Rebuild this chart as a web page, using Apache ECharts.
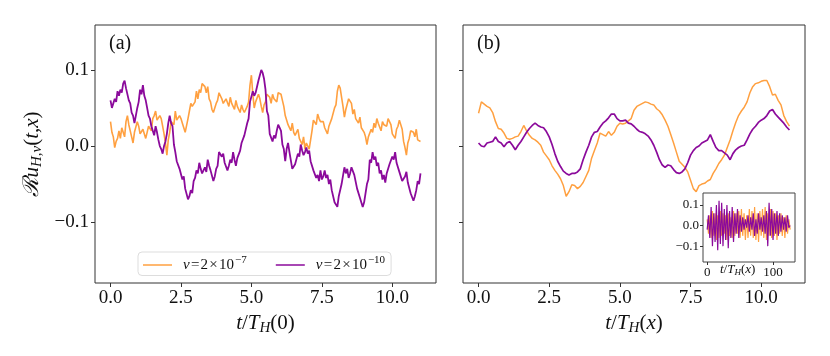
<!DOCTYPE html>
<html>
<head>
<meta charset="utf-8">
<script src="https://cdn.jsdelivr.net/npm/echarts@6/dist/echarts.min.js"></script>
<style>
  html, body { margin: 0; padding: 0; background: #fff; }
  #chart { width: 830px; height: 356px; }
</style>
</head>
<body>
<div id="chart"></div>
<script>
// sampling steps: panel (a), panel (b), inset
var tStepA = 0.05;
var tStepB = 0.1;
var insetStep = 2;

var xTicks = [0, 2.5, 5, 7.5, 10];
var yTicks = [-0.1, 0, 0.1];
var insetXTicks = [0, 100];
var insetYTicks = [-0.1, 0, 0.1];

var seriesNames = ['nu7', 'nu10'];
var legendExp = { nu7: '−7', nu10: '−10' };

// panel (a), t = 0 .. 11
var orangeA = [0.032, 0.018, 0.012, -0.002, 0.006, 0.01, 0.02, 0.01, 0.024, 0.018,
  0.012, 0.032, 0.04, 0.028, 0.028, 0.012, 0.004, 0.018, 0.02, 0.032,
  0.026, 0.016, 0.014, 0.022, 0.022, 0.01, 0.018, 0.026, 0.024, 0.02,
  0.036, 0.04, 0.046, 0.034, 0.032, 0.04, 0.036, 0.026, 0.016, 0.004,
  -0.012, 0.008, 0.018, 0.032, 0.034, 0.028, 0.046, 0.034, 0.032, 0.04,
  0.036, 0.03, 0.024, 0.018, 0.016, 0.036, 0.046, 0.056, 0.052, 0.052,
  0.058, 0.072, 0.062, 0.074, 0.07, 0.082, 0.084, 0.078, 0.07, 0.078,
  0.062, 0.058, 0.048, 0.044, 0.044, 0.056, 0.06, 0.07, 0.068, 0.062,
  0.056, 0.054, 0.062, 0.062, 0.052, 0.064, 0.056, 0.052, 0.048, 0.06,
  0.052, 0.05, 0.044, 0.054, 0.048, 0.044, 0.042, 0.052, 0.058, 0.08,
  0.093, 0.068, 0.05, 0.058, 0.056, 0.068, 0.062, 0.052, 0.044, 0.054,
  0.058, 0.068, 0.066, 0.064, 0.056, 0.068, 0.062, 0.06, 0.058, 0.07,
  0.07, 0.068, 0.06, 0.052, 0.04, 0.038, 0.028, 0.026, 0.02, 0.03,
  0.018, 0.014, 0.012, 0.022, 0.01, 0.008, 0.002, 0.012, -0.004, 0.004,
  0.002, -0.004, -0.006, 0.02, 0.034, 0.032, 0.028, 0.042, 0.036, 0.032,
  0.032, 0.032, 0.024, 0.022, 0.016, 0.026, 0.026, 0.036, 0.038, 0.05,
  0.054, 0.072, 0.08, 0.076, 0.064, 0.052, 0.038, 0.048, 0.048, 0.062,
  0.064, 0.056, 0.042, 0.048, 0.036, 0.036, 0.03, 0.038, 0.024, 0.024,
  0.018, 0.012, 0.002, 0.012, 0.012, 0.022, 0.018, 0.03, 0.024, 0.036,
  0.03, 0.028, 0.02, 0.032, 0.028, 0.026, 0.026, 0.036, 0.034, 0.028,
  0.016, 0.016, 0.01, 0.022, 0.026, 0.034, 0.034, 0.022, 0.006, -0.002,
  -0.012, 0.004, 0.01, 0.02, 0.02, 0.018, 0.012, 0.022, 0.008, 0.006,
  0.006];
var purpleA = [0.06, 0.05, 0.056, 0.062, 0.058, 0.072, 0.066, 0.074, 0.07, 0.082,
  0.086, 0.076, 0.074, 0.06, 0.056, 0.044, 0.04, 0.03, 0.04, 0.05,
  0.058, 0.074, 0.068, 0.08, 0.066, 0.06, 0.05, 0.04, 0.036, 0.026,
  0.024, 0.014, 0.026, 0.018, 0.008, 0.0, -0.004, -0.01, 0.0, 0.006,
  0.016, 0.03, 0.04, 0.03, 0.026, 0.002, -0.008, -0.02, -0.018, -0.03,
  -0.03, -0.044, -0.04, -0.056, -0.058, -0.07, -0.066, -0.058, -0.062, -0.046,
  -0.042, -0.032, -0.036, -0.022, -0.03, -0.036, -0.036, -0.028, -0.034, -0.018,
  -0.026, -0.032, -0.034, -0.046, -0.04, -0.03, -0.026, -0.008, -0.006, -0.014,
  -0.01, -0.022, -0.02, -0.032, -0.026, -0.018, -0.022, -0.008, -0.018, -0.026,
  -0.016, -0.016, -0.006, 0.004, 0.002, 0.014, 0.012, 0.03, 0.036, 0.058,
  0.06, 0.072, 0.066, 0.07, 0.07, 0.086, 0.086, 0.1, 0.096, 0.088,
  0.074, 0.046, 0.04, 0.016, 0.018, 0.006, 0.014, 0.01, 0.02, 0.028,
  0.024, 0.02, 0.002, -0.004, -0.02, -0.004, 0.004, -0.008, -0.01, -0.03,
  -0.03, -0.024, -0.022, -0.01, -0.014, 0.002, -0.006, -0.012, -0.008, -0.002,
  -0.01, -0.006, -0.02, -0.018, -0.032, -0.03, -0.042, -0.038, -0.046, -0.032,
  -0.044, -0.04, -0.032, -0.042, -0.038, -0.05, -0.044, -0.058, -0.058, -0.074,
  -0.074, -0.08, -0.066, -0.066, -0.05, -0.048, -0.028, -0.036, -0.03, -0.042,
  -0.036, -0.028, -0.03, -0.038, -0.038, -0.056, -0.056, -0.068, -0.066, -0.08,
  -0.074, -0.072, -0.05, -0.044, -0.018, -0.022, -0.008, -0.018, -0.014, -0.026,
  -0.022, -0.036, -0.032, -0.044, -0.038, -0.048, -0.036, -0.038, -0.024, -0.026,
  -0.014, -0.018, -0.008, -0.022, -0.02, -0.034, -0.032, -0.046, -0.044, -0.04,
  -0.034, -0.048, -0.046, -0.062, -0.06, -0.072, -0.066, -0.058, -0.046, -0.05,
  -0.036];

// panel (b), t = 0 .. 11
var orangeB = [0.043, 0.058, 0.055, 0.052, 0.05, 0.044, 0.032, 0.023, 0.022, 0.017,
  0.01, 0.009, 0.01, 0.012, 0.013, 0.019, 0.027, 0.02, 0.014, 0.01,
  0.008, 0.005, 0.001, -0.008, -0.013, -0.018, -0.026, -0.032, -0.037, -0.043,
  -0.052, -0.066, -0.06, -0.051, -0.052, -0.056, -0.053, -0.048, -0.04, -0.032,
  -0.016, -0.006, 0.004, 0.017, 0.015, 0.013, 0.019, 0.014, 0.018, 0.026,
  0.03, 0.029, 0.03, 0.033, 0.036, 0.047, 0.052, 0.054, 0.056, 0.058,
  0.057, 0.055, 0.054, 0.049, 0.046, 0.041, 0.034, 0.026, 0.015, 0.004,
  -0.008, -0.02, -0.024, -0.028, -0.034, -0.045, -0.056, -0.06, -0.052, -0.05,
  -0.049, -0.046, -0.044, -0.036, -0.03, -0.023, -0.018, -0.012, -0.002, 0.008,
  0.02, 0.031, 0.04, 0.046, 0.051, 0.058, 0.07, 0.078, 0.082, 0.083,
  0.085, 0.086, 0.086, 0.078, 0.067, 0.068, 0.06, 0.054, 0.04, 0.032,
  0.026];
var purpleB = [0.004, 0.0, -0.001, 0.004, 0.005, 0.006, 0.012, 0.006, 0.004, -0.001,
  0.004, 0.006, 0.001, -0.005, 0.001, 0.006, 0.012, 0.018, 0.023, 0.027,
  0.03, 0.027, 0.025, 0.024, 0.019, 0.012, 0.002, -0.01, -0.02, -0.027,
  -0.033, -0.036, -0.038, -0.036, -0.036, -0.034, -0.03, -0.018, -0.008, 0.001,
  0.012, 0.018, 0.019, 0.025, 0.03, 0.033, 0.037, 0.042, 0.042, 0.036,
  0.033, 0.033, 0.034, 0.03, 0.029, 0.026, 0.022, 0.019, 0.018, 0.016,
  0.013, 0.008, 0.001, -0.008, -0.018, -0.025, -0.028, -0.025, -0.026, -0.031,
  -0.035, -0.036, -0.034, -0.03, -0.022, -0.012, -0.006, -0.002, 0.0, 0.004,
  0.006, 0.008, 0.015, 0.006, -0.002, -0.006, -0.006, -0.009, -0.012, -0.018,
  -0.01, -0.005, -0.002, 0.0, 0.001, 0.008, 0.016, 0.022, 0.026, 0.031,
  0.034, 0.036, 0.04, 0.046, 0.048, 0.042, 0.038, 0.034, 0.03, 0.025,
  0.021];

// inset of panel (b), t = 0 .. 126
var orangeInset = [0.03, -0.04, 0.05, -0.06, 0.07, -0.05, 0.06, -0.07, 0.05, -0.06,
  0.07, -0.05, 0.06, -0.04, 0.05, -0.07, 0.06, -0.05, 0.04, -0.06,
  0.07, -0.05, 0.06, -0.04, 0.07, -0.06, 0.08, -0.05, 0.06, -0.07,
  0.05, -0.06, 0.08, -0.05, 0.07, -0.06, 0.09, -0.07, 0.06, -0.08,
  0.07, -0.05, 0.08, -0.06, 0.09, -0.07, 0.06, -0.05, 0.08, -0.06,
  0.07, -0.05, 0.06, -0.07, 0.05, -0.04, 0.06, -0.05, 0.04, -0.06,
  0.05, -0.04, 0.03, -0.02];
var purpleInset = [-0.02, 0.05, -0.06, 0.09, -0.1, 0.06, -0.08, 0.1, -0.12, 0.12,
  -0.09, 0.11, -0.1, 0.08, -0.07, 0.1, -0.11, 0.07, -0.06, 0.09,
  -0.08, 0.06, -0.04, 0.08, -0.06, 0.05, -0.03, 0.04, -0.02, 0.03,
  -0.01, 0.05, -0.03, 0.04, -0.02, 0.06, -0.05, 0.03, -0.04, 0.06,
  -0.02, 0.04, -0.03, 0.05, -0.04, 0.07, -0.1, 0.11, -0.05, 0.08,
  -0.07, 0.06, -0.04, 0.07, -0.05, 0.06, -0.03, 0.05, -0.02, 0.04,
  -0.03, 0.05, -0.01, 0.0];

var ORANGE = '#ffa040';
var PURPLE = '#8b0a9b';
var FONT = '"Liberation Serif", "DejaVu Serif", serif';

function pairs(arr, step) {
  return arr.map(function(v, i) { return [+(i * step).toFixed(2), v]; });
}

function fmtX(v) { return v.toFixed(1); }
function fmtY(v) { return (v < 0 ? '−' : '') + Math.abs(v).toFixed(1); }

var richMath = {
  n: { fontFamily: FONT, fontSize: 21, color: '#111' },
  i: { fontFamily: FONT, fontSize: 21, fontStyle: 'italic', color: '#111' },
  r: { fontFamily: FONT, fontSize: 22, fontStyle: 'italic', color: '#111' },
  sub: { fontFamily: FONT, fontSize: 15, fontStyle: 'italic', color: '#111', padding: [10, 0, 0, 0] }
};

function mainX(grid, nameText) {
  return {
    gridIndex: grid, type: 'value', min: -0.55, max: 11.55,
    axisLine: { show: false, onZero: false },
    splitLine: { show: false },
    axisTick: { customValues: xTicks, length: 4, lineStyle: { color: '#333' } },
    axisLabel: { customValues: xTicks, formatter: fmtX, fontFamily: FONT, fontSize: 19, color: '#111', margin: 6 },
    name: nameText, nameLocation: 'middle', nameGap: 19,
    nameTextStyle: { rich: richMath }
  };
}

function mainY(grid, labels) {
  var ax = {
    gridIndex: grid, type: 'value', min: -0.18, max: 0.159,
    axisLine: { show: false, onZero: false },
    splitLine: { show: false },
    axisTick: { customValues: yTicks, length: 4, lineStyle: { color: '#333' } },
    axisLabel: { show: labels, customValues: yTicks, formatter: fmtY, fontFamily: FONT, fontSize: 19, color: '#111', margin: 6 }
  };
  if (labels) {
    ax.name = '{r|ℛ}{i|u}{sub|H,ν}{n|(}{i|t}{n|,}{i|x}{n|)}';
    ax.nameLocation = 'middle';
    ax.nameRotate = 90;
    ax.nameGap = 50;
    ax.nameTextStyle = { rich: richMath };
  }
  return ax;
}

function line(name, x, y, data, color, width, z) {
  return {
    name: name, type: 'line', xAxisIndex: x, yAxisIndex: y,
    data: data, symbol: 'none', z: z || 2,
    lineStyle: { color: color, width: width },
    itemStyle: { color: color }
  };
}

var chart = echarts.init(document.getElementById('chart'));

var option = {
  animation: false,
  backgroundColor: '#fff',
  grid: [
    { left: 95, top: 25, width: 341, height: 258, show: true, borderColor: '#333', borderWidth: 1 },
    { left: 463, top: 25, width: 342, height: 258, show: true, borderColor: '#333', borderWidth: 1 },
    { left: 703, top: 193, width: 92, height: 69, show: true, borderColor: '#444', borderWidth: 1, backgroundColor: '#fff', z: 10 }
  ],
  xAxis: [
    mainX(0, '{i|t}{n|/}{i|T}{sub|H}{n|(0)}'),
    mainX(1, '{i|t}{n|/}{i|T}{sub|H}{n|(}{i|x}{n|)}'),
    {
      gridIndex: 2, type: 'value', min: -6.35, max: 133.35, z: 11,
      axisLine: { show: false, onZero: false },
      splitLine: { show: false },
      axisTick: { customValues: insetXTicks, length: 3, lineStyle: { color: '#333' } },
      axisLabel: { customValues: insetXTicks, fontFamily: FONT, fontSize: 13, color: '#111', margin: 4 }
    }
  ],
  yAxis: [
    mainY(0, true),
    mainY(1, false),
    {
      gridIndex: 2, type: 'value', min: -0.177, max: 0.158, z: 11,
      axisLine: { show: false, onZero: false },
      splitLine: { show: false },
      axisTick: { customValues: insetYTicks, length: 3, lineStyle: { color: '#333' } },
      axisLabel: { customValues: insetYTicks, formatter: fmtY, fontFamily: FONT, fontSize: 13, color: '#111', margin: 4 }
    }
  ],
  legend: {
    left: 138, top: 252,
    data: seriesNames,
    icon: 'rect', itemWidth: 29, itemHeight: 1.5, itemGap: 29,
    backgroundColor: '#fff', borderColor: '#ddd', borderWidth: 1, borderRadius: 4,
    padding: [3, 6, 3, 5],
    formatter: function(name) {
      return '{i|ν}{n|\u200a=\u200a2\u200a×\u200a10}{sup|' + legendExp[name] + '}';
    },
    textStyle: {
      padding: [0, 0, 0, 6],
      rich: {
        n: { fontFamily: FONT, fontSize: 15, color: '#111' },
        i: { fontFamily: FONT, fontSize: 15, fontStyle: 'italic', color: '#111' },
        sup: { fontFamily: FONT, fontSize: 11, color: '#111', padding: [0, 0, 9, 1] }
      }
    }
  },
  graphic: [
    { type: 'text', left: 109, top: 34, style: { text: '(a)', font: '20px ' + FONT, fill: '#111' } },
    { type: 'text', left: 477, top: 34, style: { text: '(b)', font: '20px ' + FONT, fill: '#111' } },
    {
      type: 'text', left: 720, top: 263, z: 20,
      style: {
        text: '{i|t}{n|/}{i|T}{sub|H}{n|(}{i|x}{n|)}',
        rich: {
          n: { fontFamily: FONT, fontSize: 13, fill: '#111' },
          i: { fontFamily: FONT, fontSize: 13, fontStyle: 'italic', fill: '#111' },
          sub: { fontFamily: FONT, fontSize: 9, fontStyle: 'italic', fill: '#111', padding: [6, 0, 0, 0] }
        }
      }
    }
  ],
  series: [
    line('nu7', 0, 0, pairs(orangeA, tStepA), ORANGE, 1.6),
    line('nu10', 0, 0, pairs(purpleA, tStepA), PURPLE, 1.8),
    line('nu7', 1, 1, pairs(orangeB, tStepB), ORANGE, 1.5),
    line('nu10', 1, 1, pairs(purpleB, tStepB), PURPLE, 1.7),
    line('nu7', 2, 2, pairs(orangeInset, insetStep), ORANGE, 1.2, 12),
    line('nu10', 2, 2, pairs(purpleInset, insetStep), PURPLE, 1.2, 12)
  ]
};

chart.setOption(option);
</script>
</body>
</html>
